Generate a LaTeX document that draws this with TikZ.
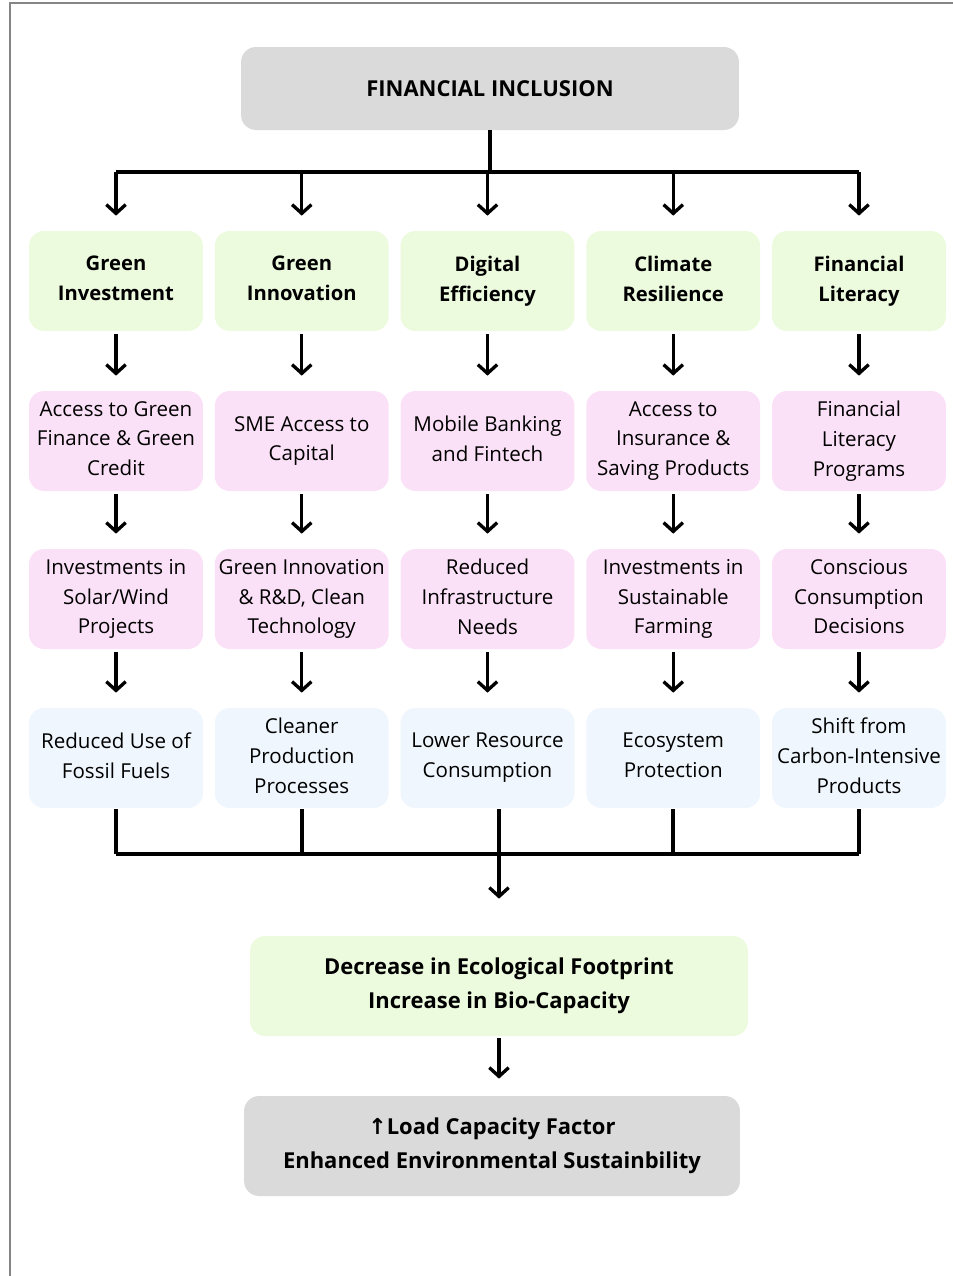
\documentclass[tikz,border=0pt]{standalone}
\usepackage{fontspec}
\setmainfont{Open Sans}
\newfontfamily\symfont{DejaVu Sans}
\usetikzlibrary{arrows.meta}

\definecolor{boxgray}{HTML}{DADADA}
\definecolor{boxgreen}{HTML}{ECFADE}
\definecolor{boxpink}{HTML}{FBE1F7}
\definecolor{boxblue}{HTML}{EFF6FD}
\definecolor{framegray}{HTML}{858585}

\begin{document}
\begin{tikzpicture}[x=0.02cm,y=-0.02cm,
		box/.style={rounded corners=0.3cm,minimum width=3.48cm,minimum height=2cm,align=center,inner sep=0pt,font=\fontsize{11.7}{17}\selectfont},
		cell/.style={box,execute at end node={\vphantom{gy}}},
		head/.style={cell,fill=boxgreen,font=\fontsize{11.5}{17}\selectfont\bfseries},
		mid/.style={cell,fill=boxpink},
		low/.style={cell,fill=boxblue},
		wide/.style={box,minimum width=9.96cm,font=\fontsize{12.5}{19.4}\selectfont\bfseries},
		arr/.style={-{Straight Barb[length=5pt,width=11pt]},line width=1.9pt},
		bar/.style={line width=2.1pt}]
		
		\useasboundingbox (0,0) rectangle (953,1276);
		\draw[framegray,line width=0.04cm] (10,1276) -- (10,3) -- (953,3);
		
		%top
		\node[wide,fill=boxgray,minimum height=1.66cm] (fi) at (490,88.5) {FINANCIAL INCLUSION};
		\coordinate (hub) at (490,172);
		
		%rows
		\foreach[count=\i,evaluate=\i as \x using 116+(\i-1)*185.75] \t in {{Green\\Investment},{Green\\Innovation},{Digital\\Efficiency},{Climate\\Resilience},{Financial\\Literacy}}
		\node[head] (g\i) at (\x,281) {\t};
		
		\foreach[count=\i,evaluate=\i as \x using 116+(\i-1)*185.75] \t in {{Access to Green\\Finance \& Green\\Credit},{SME Access to\\Capital},{Mobile Banking\\and Fintech},{Access to\\Insurance \&\\Saving Products},{Financial\\Literacy\\Programs}}
		\node[mid] (p\i) at (\x,441) {\t};
		
		\foreach[count=\i,evaluate=\i as \x using 116+(\i-1)*185.75] \t in {{Investments in\\Solar/Wind\\Projects},{Green Innovation\\\& R\&D, Clean\\Technology},{Reduced\\Infrastructure\\Needs},{Investments in\\Sustainable\\Farming},{Conscious\\Consumption\\Decisions}}
		\node[mid] (q\i) at (\x,599) {\t};
		
		\foreach[count=\i,evaluate=\i as \x using 116+(\i-1)*185.75] \t in {{Reduced Use of\\Fossil Fuels},{Cleaner\\Production\\Processes},{Lower Resource\\Consumption},{Ecosystem\\Protection},{Shift from\\Carbon-Intensive\\Products}}
		\node[low] (l\i) at (\x,758) {\t};
		
		%bottom
		\node[wide,fill=boxgreen] (eco) at (499,986) {Decrease in Ecological Footprint\\Increase in Bio-Capacity};
		\node[wide,fill=boxgray,minimum width=9.92cm] (lcf) at (492,1146) {{\symfont\bfseries ↑}Load Capacity Factor\\Enhanced Environmental Sustainbility};
		\coordinate (merge) at (499,854);
		
		%connectors
		\draw[bar] (fi.south) -- (hub);
		\draw[bar,line width=2.5pt] (hub -| g1) -- (hub -| g5);
		\foreach \i in {1,...,5}{
			\draw[arr,shorten >=0.3cm] (hub -| g\i) -- (g\i.north);
			\draw[arr,shorten <=0.06cm,shorten >=0.3cm] (g\i) -- (p\i);
			\draw[arr,shorten <=0.06cm,shorten >=0.3cm] (p\i) -- (q\i);
			\draw[arr,shorten <=0.06cm,shorten >=0.3cm] (q\i) -- (l\i);
		}
		\foreach \i in {1,2,4,5}
		\draw[bar,shorten <=0.02cm] (l\i.south) -- (l\i.south |- merge);
		\draw[bar] (l1.south |- merge) -- (l5.south |- merge);
		\draw[arr,shorten <=0.02cm,shorten >=0.74cm] (l3.south -| eco) -- (eco.north);
		\draw[arr,shorten <=0.04cm,shorten >=0.34cm] (eco.south) -- (eco.south |- lcf.north);
		
\end{tikzpicture}
\end{document}
